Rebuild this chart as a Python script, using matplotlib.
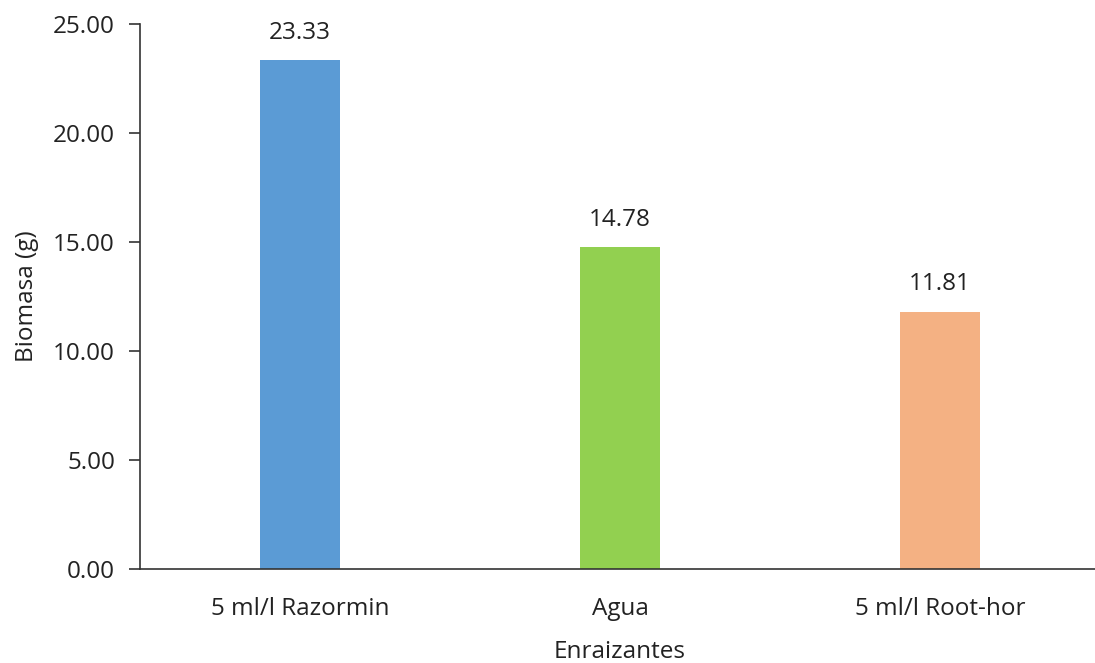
import matplotlib

matplotlib.use("Agg")

import matplotlib.pyplot as plt

categories = ["5 ml/l Razormin", "Agua", "5 ml/l Root-hor"]
biomass = [23.33, 14.78, 11.81]
bar_colors = ["#5B9BD5", "#92D050", "#F4B183"]
y_ticks = [0, 5, 10, 15, 20, 25]

plt.rcParams["font.family"] = ["Open Sans", "DejaVu Sans"]
FS = 17.5

fig = plt.figure(figsize=(10.95, 6.63), dpi=100)
ax = fig.add_axes([140 / 1095, 1 - 569 / 663, 960 / 1095, 545 / 663])

x = range(len(categories))
ax.bar(x, biomass, width=0.25, color=bar_colors)
for xi, val in zip(x, biomass):
    ax.annotate(f"{val:.2f}", (xi, val), xytext=(0, 11), textcoords="offset points",
                ha="center", va="bottom", fontsize=FS, color="#222222")

ax.set_xlim(-0.5, len(categories) - 0.5)
ax.set_ylim(0, 25)
ax.set_yticks(y_ticks)
ax.set_yticklabels([f"{t:.2f}" for t in y_ticks])
ax.set_xticks(list(x))
ax.set_xticklabels(categories)

ax.tick_params(axis="y", direction="out", length=8, width=1.2, color="#333333",
               labelsize=FS, labelcolor="#222222", pad=10)
ax.tick_params(axis="x", length=0, labelsize=FS, labelcolor="#222222", pad=20)

for side in ("top", "right"):
    ax.spines[side].set_visible(False)
for side in ("left", "bottom"):
    ax.spines[side].set_color("#333333")
    ax.spines[side].set_linewidth(1.2)

ax.set_ylabel("Biomasa (g)", fontsize=FS, color="#222222", labelpad=10)
ax.set_xlabel("Enraizantes", fontsize=FS, color="#222222", labelpad=14)

fig.savefig("out.png", dpi=100)
